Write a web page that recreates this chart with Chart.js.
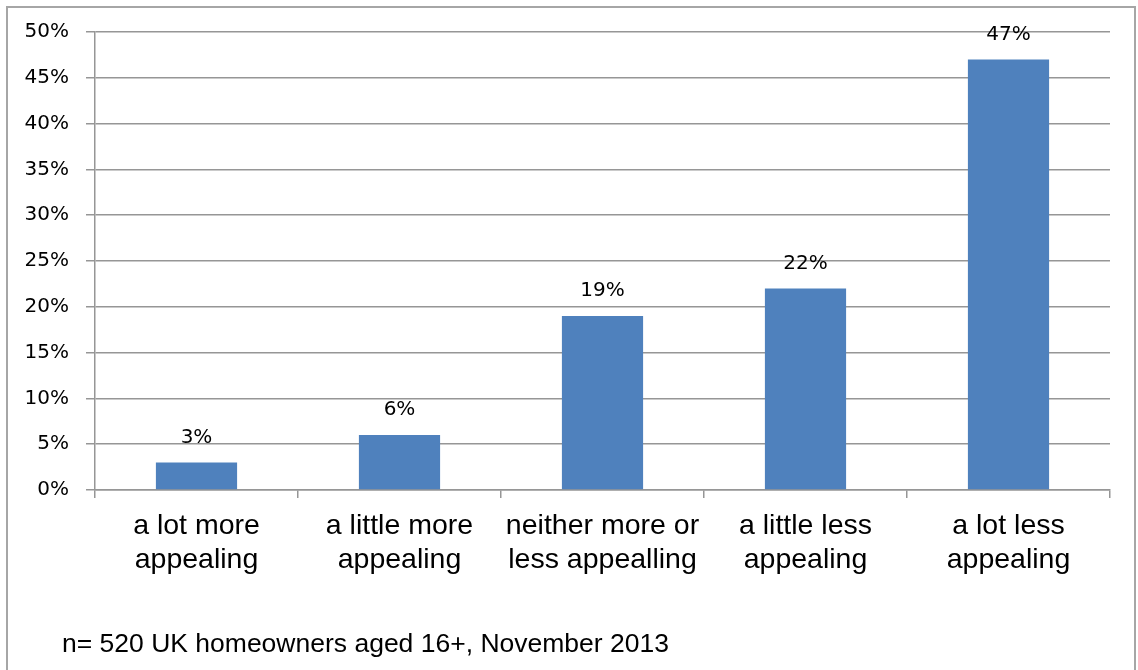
<!DOCTYPE html>
<html>
<head>
<meta charset="utf-8">
<script src="https://cdn.jsdelivr.net/npm/chart.js@4.4.0/dist/chart.umd.min.js"></script>
<style>
  html, body { margin: 0; padding: 0; background: #fff; }
  canvas { display: block; }
</style>
</head>
<body>
<canvas id="appealChart" width="1138" height="670"></canvas>
<script>
const categories = [
  ['a lot more', 'appealing'],
  ['a little more', 'appealing'],
  ['neither more or', 'less appealling'],
  ['a little less', 'appealing'],
  ['a lot less', 'appealing']
];
const shares = [3, 6, 19, 22, 47];
const yTicks = [0, 5, 10, 15, 20, 25, 30, 35, 40, 45, 50];
const footnote = 'n= 520 UK homeowners aged 16+, November 2013';

const gridGrey = '#969696';

// frame around the picture + the sample note
const framePlugin = {
  id: 'frame',
  afterDraw(chart) {
    const ctx = chart.ctx;
    ctx.save();
    ctx.strokeStyle = '#a6a6a6';
    ctx.lineWidth = 2;
    ctx.beginPath();
    ctx.moveTo(7, 670);
    ctx.lineTo(7, 7);
    ctx.lineTo(1135, 7);
    ctx.lineTo(1135, 670);
    ctx.stroke();
    ctx.fillStyle = '#000';
    ctx.font = '26.5px "Liberation Sans", Arial, sans-serif';
    ctx.textBaseline = 'middle';
    ctx.textAlign = 'left';
    ctx.fillText(footnote, 62, 645);
    ctx.restore();
  }
};

// percentage labels above the bars
const valueLabels = {
  id: 'valueLabels',
  afterDatasetsDraw(chart) {
    const ctx = chart.ctx;
    const meta = chart.getDatasetMeta(0);
    ctx.save();
    ctx.fillStyle = '#000';
    ctx.font = '20px "DejaVu Sans", sans-serif';
    ctx.textAlign = 'center';
    ctx.textBaseline = 'middle';
    meta.data.forEach((bar, i) => {
      ctx.fillText(shares[i] + '%', bar.x, bar.y - 25);
    });
    ctx.restore();
  }
};

new Chart(document.getElementById('appealChart'), {
  type: 'bar',
  data: {
    labels: categories,
    datasets: [{
      data: shares,
      backgroundColor: '#4f81bd',
      borderWidth: 0,
      categoryPercentage: 1,
      barPercentage: 0.4
    }]
  },
  options: {
    responsive: false,
    animation: false,
    layout: { padding: { left: 0, right: 28, top: 32, bottom: 0 } },
    plugins: {
      legend: { display: false },
      tooltip: { enabled: false }
    },
    scales: {
      x: {
        afterFit(scale) { scale.height = 180; },
        grid: {
          offset: true,
          drawOnChartArea: false,
          tickLength: 8,
          lineWidth: 1.5,
          color: gridGrey
        },
        border: { color: gridGrey, width: 1.5 },
        ticks: {
          color: '#000',
          padding: 11,
          maxRotation: 0,
          font: { family: '"Liberation Sans", Arial, sans-serif', size: 28.5, lineHeight: 1.19 }
        }
      },
      y: {
        min: 0,
        max: 50,
        afterFit(scale) { scale.width = 95; },
        afterBuildTicks(scale) { scale.ticks = yTicks.map(v => ({ value: v })); },
        grid: { color: gridGrey, tickLength: 9, lineWidth: 1.5 },
        border: { color: gridGrey, width: 1.5 },
        ticks: {
          color: '#000',
          padding: 17,
          font: { family: '"DejaVu Sans", sans-serif', size: 20 },
          callback: v => v + '%'
        }
      }
    }
  },
  plugins: [framePlugin, valueLabels]
});
</script>
</body>
</html>
